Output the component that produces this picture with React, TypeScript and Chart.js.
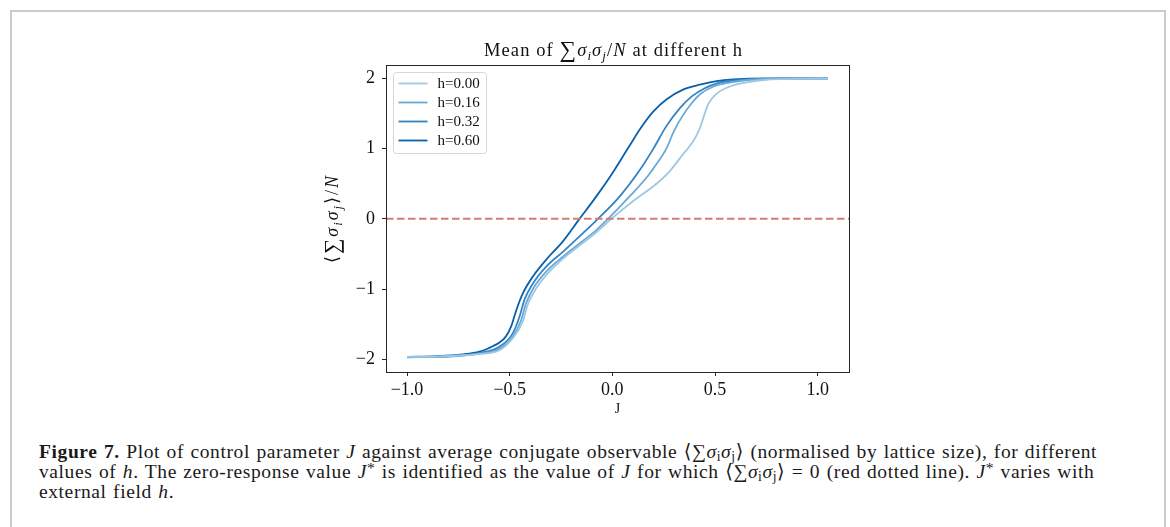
import React, { useEffect, useRef } from 'react';
import { Chart, registerables } from 'chart.js';

Chart.register(...registerables);

// ---- data ----
const SERIES_LABELS = ['h=0.00', 'h=0.16', 'h=0.32', 'h=0.60'];

const J_H000 = [-1.0, -0.85, -0.73, -0.65, -0.55, -0.485, -0.436, -0.412, -0.371, -0.322, -0.241, -0.16, -0.078, -0.005, 0.10, 0.215, 0.28, 0.344, 0.393, 0.426, 0.45, 0.466, 0.507, 0.588, 0.67, 0.75, 0.9, 1.05];
const M_H000 = [-1.965, -1.96, -1.945, -1.925, -1.87, -1.70, -1.46, -1.22, -0.99, -0.80, -0.57, -0.38, -0.19, 0.0, 0.25, 0.50, 0.68, 0.92, 1.10, 1.29, 1.50, 1.63, 1.78, 1.90, 1.95, 1.98, 1.995, 2.0];

const J_H016 = [-1.0, -0.85, -0.73, -0.65, -0.55, -0.485, -0.444, -0.42, -0.379, -0.322, -0.241, -0.16, -0.078, -0.021, 0.084, 0.17, 0.215, 0.263, 0.30, 0.345, 0.39, 0.43, 0.49, 0.57, 0.67, 0.8, 1.05];
const M_H016 = [-1.965, -1.96, -1.94, -1.92, -1.85, -1.68, -1.44, -1.20, -0.96, -0.75, -0.54, -0.35, -0.16, 0.0, 0.32, 0.60, 0.78, 1.0, 1.25, 1.48, 1.66, 1.78, 1.88, 1.94, 1.98, 1.995, 2.0];

const J_H032 = [-1.0, -0.85, -0.73, -0.65, -0.55, -0.485, -0.452, -0.428, -0.387, -0.322, -0.241, -0.16, -0.07, 0.036, 0.13, 0.20, 0.263, 0.33, 0.39, 0.45, 0.51, 0.59, 0.7, 1.05];
const M_H032 = [-1.97, -1.965, -1.945, -1.91, -1.82, -1.63, -1.39, -1.15, -0.92, -0.68, -0.47, -0.25, 0.0, 0.32, 0.68, 1.0, 1.32, 1.58, 1.75, 1.86, 1.93, 1.97, 1.99, 2.0];

const J_H060 = [-1.0, -0.85, -0.73, -0.647, -0.58, -0.55, -0.52, -0.493, -0.468, -0.436, -0.387, -0.322, -0.241, -0.16, -0.078, 0.0, 0.075, 0.14, 0.20, 0.263, 0.344, 0.426, 0.507, 0.588, 0.75, 1.05];
const M_H060 = [-1.965, -1.955, -1.93, -1.89, -1.81, -1.76, -1.68, -1.53, -1.30, -1.06, -0.82, -0.58, -0.32, 0.0, 0.32, 0.65, 1.0, 1.30, 1.53, 1.70, 1.84, 1.91, 1.96, 1.985, 2.0, 2.0];

const J_SERIES = [J_H000, J_H016, J_H032, J_H060];
const M_SERIES = [M_H000, M_H016, M_H032, M_H060];

const X_TICKS = [-1.0, -0.5, 0.0, 0.5, 1.0];
const Y_TICKS = [-2, -1, 0, 1, 2];
const X_MIN = -1.1025;
const X_MAX = 1.1525;
const Y_MIN = -2.18;
const Y_MAX = 2.19;
const ZERO_LEVEL = 0;
const X_TITLE = 'J';

// ---- styles ----
const COLORS = ['#9cc8e3', '#6aa8d5', '#3384c4', '#0c60a7'];
const SERIF = '"Liberation Serif", "DejaVu Serif", serif';

type Seg = { t: string; it?: boolean; sub?: boolean; scale?: number };

function drawRich(ctx: CanvasRenderingContext2D, segs: Seg[], x: number, y: number, size: number, align: 'center' | 'left', spacing: number) {
  const c: any = ctx;
  const fontFor = (s: Seg) => {
    const sz = size * (s.sub ? 0.7 : s.scale || 1);
    return `${s.it ? 'italic ' : ''}${sz}px ${SERIF}`;
  };
  c.letterSpacing = `${spacing}px`;
  let total = 0;
  const widths = segs.map((s) => {
    ctx.font = fontFor(s);
    const w = ctx.measureText(s.t).width;
    total += w;
    return w;
  });
  let cx = align === 'center' ? x - total / 2 : x;
  ctx.textBaseline = 'alphabetic';
  ctx.textAlign = 'left';
  segs.forEach((s, i) => {
    ctx.font = fontFor(s);
    const dy = s.sub ? size * 0.22 : s.scale ? size * 0.08 : 0;
    ctx.fillText(s.t, cx, y + dy);
    cx += widths[i];
  });
  c.letterSpacing = '0px';
}

const TITLE_SEGS: Seg[] = [
  { t: 'Mean of ' },
  { t: '∑', scale: 1.25 },
  { t: 'σ', it: true },
  { t: 'i', it: true, sub: true },
  { t: 'σ', it: true },
  { t: 'j', it: true, sub: true },
  { t: '/' },
  { t: 'N', it: true },
  { t: ' at different h' },
];

const YLABEL_SEGS: Seg[] = [
  { t: '⟨' },
  { t: '∑', scale: 1.2 },
  { t: 'σ', it: true },
  { t: 'i', it: true, sub: true },
  { t: 'σ', it: true },
  { t: 'j', it: true, sub: true },
  { t: '⟩' },
  { t: '/' },
  { t: 'N', it: true },
];

const fmtX = (v: number) => (v < 0 ? '−' + Math.abs(v).toFixed(1) : v.toFixed(1));
const fmtY = (v: number) => (v < 0 ? '−' + Math.abs(v).toFixed(0) : v.toFixed(0));

const decorPlugin = {
  id: 'decor',
  afterDatasetsDraw(chart: any) {
    const { ctx, chartArea: a, scales } = chart;
    // zero-response dashed line
    const y0 = scales.y.getPixelForValue(ZERO_LEVEL);
    ctx.save();
    ctx.strokeStyle = '#d67a7a';
    ctx.lineWidth = 2;
    ctx.setLineDash([7.5, 3.5]);
    ctx.beginPath();
    ctx.moveTo(a.left, y0);
    ctx.lineTo(a.right, y0);
    ctx.stroke();
    ctx.restore();

    // legend
    ctx.save();
    const lx = a.left + 7.5;
    const ly = a.top + 7.5;
    ctx.fillStyle = 'rgba(255,255,255,0.85)';
    ctx.strokeStyle = '#d6d6d6';
    ctx.lineWidth = 1;
    ctx.beginPath();
    (ctx as any).roundRect(lx, ly, 93, 81, 3);
    ctx.fill();
    ctx.stroke();
    chart.data.datasets.forEach((ds: any, i: number) => {
      const yy = ly + 11 + i * 19;
      ctx.strokeStyle = ds.borderColor;
      ctx.lineWidth = ds.borderWidth;
      ctx.beginPath();
      ctx.moveTo(lx + 5, yy);
      ctx.lineTo(lx + 34, yy);
      ctx.stroke();
      ctx.fillStyle = '#111';
      ctx.font = `15px ${SERIF}`;
      ctx.textBaseline = 'middle';
      ctx.textAlign = 'left';
      ctx.fillText(ds.label, lx + 44, yy + 1);
    });
    ctx.restore();
  },
  afterDraw(chart: any) {
    const { ctx, chartArea: a } = chart;
    ctx.save();
    // axes box
    ctx.strokeStyle = '#262626';
    ctx.lineWidth = 1;
    ctx.strokeRect(Math.round(a.left) + 0.5, Math.round(a.top) + 0.5, Math.round(a.right - a.left), Math.round(a.bottom - a.top));
    ctx.fillStyle = '#111';
    // title
    drawRich(ctx, TITLE_SEGS, (a.left + a.right) / 2 - 4, a.top - 9, 18.5, 'center', 1.1);
    // x title
    ctx.font = `14px ${SERIF}`;
    ctx.textAlign = 'center';
    ctx.textBaseline = 'middle';
    ctx.fillText(X_TITLE, (a.left + a.right) / 2, a.bottom + 37);
    // y title
    ctx.translate(a.left - 54, (a.top + a.bottom) / 2);
    ctx.rotate(-Math.PI / 2);
    drawRich(ctx, YLABEL_SEGS, 0, 6, 18, 'center', 2);
    ctx.restore();
  },
};

export default function App() {
  const ref = useRef<HTMLCanvasElement | null>(null);

  useEffect(() => {
    if (!ref.current) return;
    const tickFont = { family: SERIF, size: 18 };
    const chart = new Chart(ref.current, {
      type: 'line',
      data: {
        datasets: SERIES_LABELS.map((label, i) => ({
          label,
          data: J_SERIES[i].map((x, k) => ({ x, y: M_SERIES[i][k] })),
          borderColor: COLORS[i],
          backgroundColor: COLORS[i],
          borderWidth: 1.8,
          pointRadius: 0,
          cubicInterpolationMode: 'monotone' as const,
          fill: false,
        })),
      },
      options: {
        animation: false,
        responsive: false,
        events: [],
        layout: { padding: { left: 336, right: 321, top: 65, bottom: 13 } },
        plugins: {
          legend: { display: false },
          title: { display: false },
          tooltip: { enabled: false },
        },
        scales: {
          x: {
            type: 'linear',
            min: X_MIN,
            max: X_MAX,
            afterBuildTicks: (s: any) => {
              s.ticks = X_TICKS.map((v) => ({ value: v }));
            },
            afterFit: (s: any) => {
              s.height = 45;
            },
            ticks: {
              callback: (v: any) => fmtX(Number(v)),
              font: tickFont,
              color: '#111',
              padding: 3,
              maxRotation: 0,
              autoSkip: false,
            },
            grid: { drawOnChartArea: false, drawTicks: true, tickLength: 4, tickColor: '#262626', tickWidth: 1 },
            border: { display: false },
          },
          y: {
            type: 'linear',
            min: Y_MIN,
            max: Y_MAX,
            afterBuildTicks: (s: any) => {
              s.ticks = Y_TICKS.map((v) => ({ value: v }));
            },
            afterFit: (s: any) => {
              s.width = 50;
            },
            ticks: {
              callback: (v: any) => fmtY(Number(v)),
              font: tickFont,
              color: '#111',
              padding: 7,
              autoSkip: false,
            },
            grid: { drawOnChartArea: false, drawTicks: true, tickLength: 4, tickColor: '#262626', tickWidth: 1 },
            border: { display: false },
          },
        },
      },
      plugins: [decorPlugin],
    });
    return () => chart.destroy();
  }, []);

  const subStyle: React.CSSProperties = { fontSize: '0.7em', verticalAlign: '-0.25em', lineHeight: 0 };
  const supStyle: React.CSSProperties = { fontSize: '0.8em', verticalAlign: '0.3em', lineHeight: 0 };

  return (
    <div style={{ position: 'absolute', left: 0, top: 0, width: 1170, height: 527, overflow: 'hidden', background: '#fff' }}>
      <div
        style={{
          position: 'absolute',
          left: 10,
          top: 10,
          width: 1156,
          height: 517,
          border: '2px solid #cbcbcb',
          borderBottom: 'none',
          boxSizing: 'border-box',
        }}
      />
      <canvas ref={ref} width={1170} height={430} style={{ position: 'absolute', left: 0, top: 0, width: 1170, height: 430 }} />
      <div
        style={{
          position: 'absolute',
          left: 39,
          top: 442,
          fontFamily: SERIF,
          fontSize: 19.5,
          letterSpacing: '0.6px',
          wordSpacing: '1px',
          lineHeight: '20px',
          color: '#1a1a1a',
          whiteSpace: 'nowrap',
        }}
      >
        <div>
          <b>Figure 7.</b> Plot of control parameter <i>J</i> against average conjugate observable ⟨∑<i>σ</i>
          <span style={subStyle}>i</span>
          <i>σ</i>
          <span style={subStyle}>j</span>⟩ (normalised by lattice size), for different
        </div>
        <div>
          values of <i>h</i>. The zero-response value <i>J</i>
          <span style={supStyle}>*</span> is identified as the value of <i>J</i> for which ⟨∑<i>σ</i>
          <span style={subStyle}>i</span>
          <i>σ</i>
          <span style={subStyle}>j</span>⟩ = 0 (red dotted line). <i>J</i>
          <span style={supStyle}>*</span> varies with
        </div>
        <div>
          external field <i>h</i>.
        </div>
      </div>
    </div>
  );
}
